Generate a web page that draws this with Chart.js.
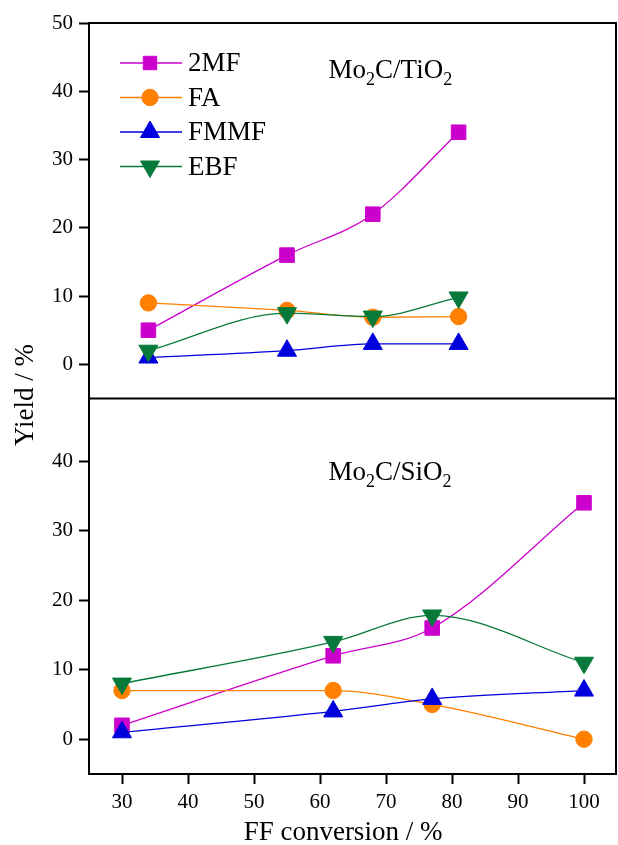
<!DOCTYPE html>
<html lang="en">
<head>
  <meta charset="UTF-8" />
  <title>Yield vs FF conversion</title>
  <style>
    html, body { margin: 0; padding: 0; background: #fff; }
    #wrap { width: 618px; height: 845px; }
  </style>
  <script src="https://cdn.jsdelivr.net/npm/chart.js"></script>
</head>
<body>
  <div id="wrap"><canvas id="yieldChart" width="618" height="845"></canvas></div>

  <script>
    // FF conversion (%) for each catalyst
    const convTi = [34, 55, 68, 81];
    const convSi = [30, 62, 77, 100];

    // Mo2C/TiO2 yields (%)
    const ti2MF = [5, 16, 22, 34];
    const tiFA = [9, 7.9, 6.9, 7];
    const tiFMMF = [1, 2, 3, 3];
    const tiEBF = [2, 7.5, 7, 9.8];

    // Mo2C/SiO2 yields (%)
    const si2MF = [2, 12, 16, 34];
    const siFA = [7, 7, 5, 0];
    const siFMMF = [1, 4, 5.8, 7];
    const siEBF = [8, 14, 17.8, 11];

    const seriesNames = ["2MF", "FA", "FMMF", "EBF"];
    const xTicks = [30, 40, 50, 60, 70, 80, 90, 100];
    const tiTicks = [0, 10, 20, 30, 40, 50];
    const siTicks = [0, 10, 20, 30, 40];

    const FONT = "'Liberation Serif', 'Times New Roman', serif";

    const styles = {
      "2MF": { color: "#cc00cc", pointStyle: "rect", radius: 10.3, rotation: 0, order: 3 },
      "FA": { color: "#ff8000", pointStyle: "circle", radius: 8.2, rotation: 0, order: 2 },
      "FMMF": { color: "#0000dd", pointStyle: "triangle", radius: 11, rotation: 0, order: 1 },
      "EBF": { color: "#077a3b", pointStyle: "triangle", radius: 11, rotation: 180, order: 0 },
    };

    function makeSet(name, xs, ys, axis) {
      const st = styles[name];
      return {
        label: name,
        data: xs.map((x, i) => ({ x: x, y: ys[i] })),
        yAxisID: axis,
        borderColor: st.color,
        backgroundColor: st.color,
        borderWidth: 1.3,
        pointStyle: st.pointStyle,
        pointRadius: st.radius,
        pointHoverRadius: st.radius,
        pointRotation: st.rotation,
        pointBorderWidth: 1,
        cubicInterpolationMode: "monotone",
        fill: false,
        order: st.order,
      };
    }

    // text with subscript 2s, e.g. Mo2C/TiO2
    function drawSub(ctx, parts, x, y) {
      let cx = x;
      parts.forEach((p, i) => {
        const sub = i % 2 === 1;
        ctx.font = (sub ? "18px " : "27px ") + FONT;
        ctx.fillText(p, cx, sub ? y + 7 : y);
        cx += ctx.measureText(p).width;
      });
    }

    const extras = {
      id: "extras",
      afterDraw(chart) {
        const { ctx, chartArea: a, scales } = chart;
        ctx.save();

        // frame and panel divider
        ctx.strokeStyle = "#000";
        ctx.lineWidth = 2;
        ctx.strokeRect(a.left, a.top, a.right - a.left - 1, a.bottom - a.top);
        const mid = scales.yTi.bottom;
        ctx.beginPath();
        ctx.moveTo(a.left, mid);
        ctx.lineTo(a.right, mid);
        ctx.stroke();

        // panel labels
        ctx.fillStyle = "#000";
        ctx.textAlign = "left";
        ctx.textBaseline = "alphabetic";
        drawSub(ctx, ["Mo", "2", "C/TiO", "2"], scales.x.getPixelForValue(61.3), scales.yTi.getPixelForValue(42));
        drawSub(ctx, ["Mo", "2", "C/SiO", "2"], scales.x.getPixelForValue(61.3), scales.ySi.getPixelForValue(37.3));

        // legend (line + marker + name)
        seriesNames.forEach((name, i) => {
          const st = styles[name];
          const ly = a.top + 40 + i * 34.5;
          ctx.strokeStyle = st.color;
          ctx.fillStyle = st.color;
          ctx.lineWidth = 1.3;
          ctx.beginPath();
          ctx.moveTo(a.left + 31, ly);
          ctx.lineTo(a.left + 93, ly);
          ctx.stroke();
          ctx.lineWidth = 1;
          Chart.helpers.drawPoint(ctx, {
            pointStyle: st.pointStyle,
            radius: st.pointStyle === "rect" ? 9.5 : st.radius,
            rotation: st.rotation,
            borderWidth: 1,
          }, a.left + 61, ly);
          ctx.fillStyle = "#000";
          ctx.font = "27px " + FONT;
          ctx.textBaseline = "middle";
          ctx.fillText(name, a.left + 99, ly + 1);
        });

        // x title
        ctx.textAlign = "center";
        ctx.textBaseline = "alphabetic";
        ctx.font = "27px " + FONT;
        ctx.fillText("FF conversion / %", 343, 840);

        // shared y title
        ctx.translate(33, 395);
        ctx.rotate(-Math.PI / 2);
        ctx.fillText("Yield / %", 0, 0);

        ctx.restore();
      },
    };

    const tickGrid = {
      drawOnChartArea: false,
      color: "#000",
      tickColor: "#000",
      tickLength: 10,
      tickWidth: 2,
    };

    const tickFont = { family: FONT, size: 21 };

    const ctx = document.getElementById("yieldChart").getContext("2d");
    new Chart(ctx, {
      type: "line",
      data: {
        datasets: [
          makeSet("2MF", convTi, ti2MF, "yTi"),
          makeSet("FA", convTi, tiFA, "yTi"),
          makeSet("FMMF", convTi, tiFMMF, "yTi"),
          makeSet("EBF", convTi, tiEBF, "yTi"),
          makeSet("2MF", convSi, si2MF, "ySi"),
          makeSet("FA", convSi, siFA, "ySi"),
          makeSet("FMMF", convSi, siFMMF, "ySi"),
          makeSet("EBF", convSi, siEBF, "ySi"),
        ],
      },
      options: {
        responsive: false,
        animation: false,
        layout: { autoPadding: false, padding: { top: 23, right: 1, left: 0, bottom: 0 } },
        plugins: {
          legend: { display: false },
          tooltip: { enabled: false },
        },
        scales: {
          x: {
            type: "linear",
            min: 25,
            max: 105,
            afterBuildTicks: (s) => { s.ticks = xTicks.map((v) => ({ value: v })); },
            afterFit: (s) => { s.height = 71; s.paddingLeft = 0; s.paddingRight = 0; },
            ticks: { color: "#000", font: tickFont, padding: 6, maxRotation: 0 },
            grid: tickGrid,
            border: { display: false },
          },
          ySi: {
            type: "linear",
            position: "left",
            stack: "panels",
            stackWeight: 1,
            min: -5,
            max: 49,
            afterBuildTicks: (s) => { s.ticks = siTicks.map((v) => ({ value: v })); },
            afterFit: (s) => { s.width = 89; },
            ticks: { color: "#000", font: tickFont, padding: 6 },
            grid: tickGrid,
            border: { display: false },
          },
          yTi: {
            type: "linear",
            position: "left",
            stack: "panels",
            stackWeight: 1,
            min: -5,
            max: 50,
            afterBuildTicks: (s) => { s.ticks = tiTicks.map((v) => ({ value: v })); },
            afterFit: (s) => { s.width = 89; },
            ticks: { color: "#000", font: tickFont, padding: 6 },
            grid: tickGrid,
            border: { display: false },
          },
        },
      },
      plugins: [extras],
    });
  </script>
</body>
</html>
